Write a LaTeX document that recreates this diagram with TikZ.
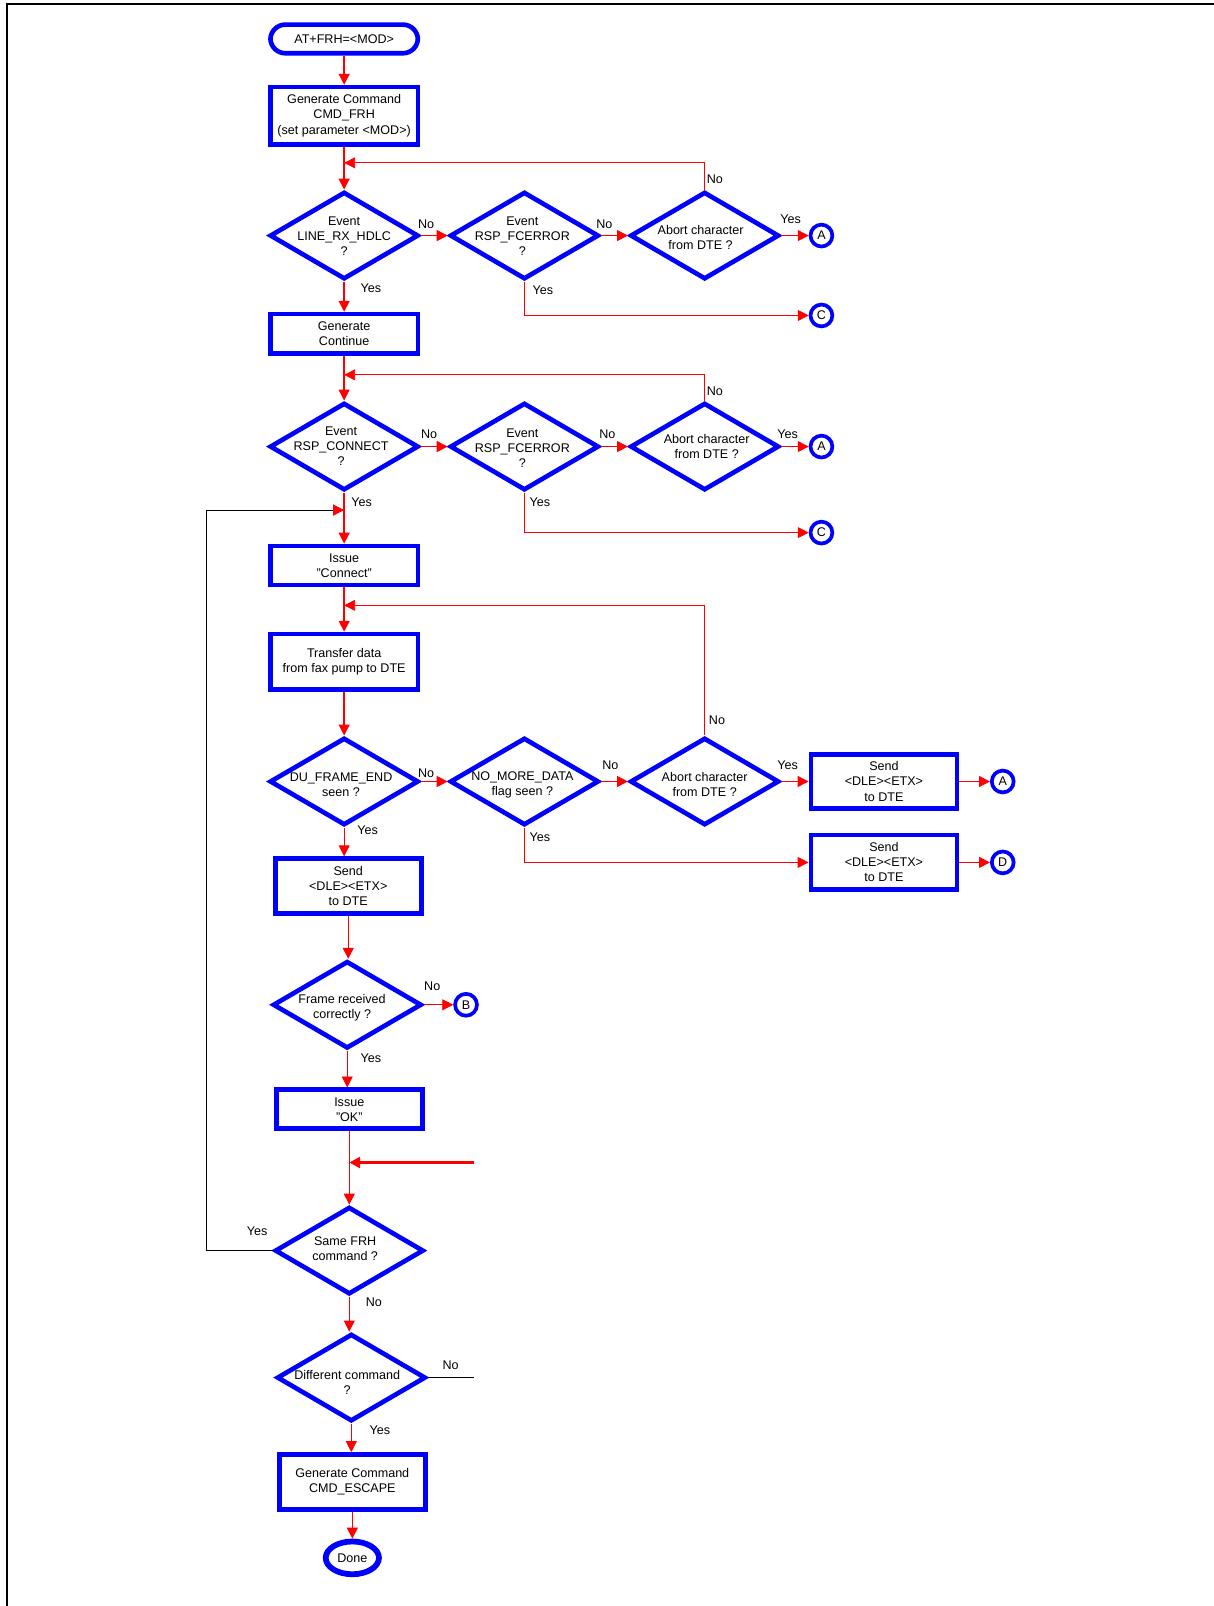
\documentclass[tikz,border=0pt]{standalone}
\usepackage{fontspec}
\setmainfont{Liberation Sans}
\usetikzlibrary{shapes.geometric,arrows.meta}
\begin{document}
\begin{tikzpicture}[x=0.75pt,y=-0.75pt,
  font=\fontsize{9.2}{11}\selectfont,
  box/.style={draw=blue,line width=3.4pt,rectangle,minimum width=108pt,align=center,inner sep=1pt},
  dia/.style={draw=blue,line width=3.4pt,diamond,minimum width=109pt,minimum height=64pt,inner sep=0pt},
  txt/.style={align=center,inner sep=0pt},
  conn/.style={circle,draw=blue,line width=2.7pt,minimum size=16pt,inner sep=0pt},
  lab/.style={inner sep=0pt},
  tip/.style={-{Triangle[length=8pt,width=8pt,red]}},
  arr/.style={red,line width=1pt,tip},
  tarr/.style={red,line width=0.6pt,tip},
  bline/.style={black,line width=0.8pt},
]
\useasboundingbox (0,0) rectangle (1185,1568);
\draw[line width=1.5pt] (7,1568) -- (7,4) -- (1185,4);

% ---- column 1 ----
\node[draw=blue,line width=3.4pt,rounded corners=11pt,minimum width=108pt,minimum height=21pt,inner sep=1pt] (start) at (336,38) {AT+FRH=<MOD>};
\node[box,minimum height=42pt] (b1) at (336,113) {Generate Command\\CMD\_FRH\\(set parameter <MOD>)};
\node[dia] (d1) at (336,230) {};
\node[txt] (d1t) at (336,231) {Event\\LINE\_RX\_HDLC\\?};
\node[dia] (d2) at (512,230) {};
\node[txt] (d2t) at (510,231) {Event\\RSP\_FCERROR\\?};
\node[dia] (d3) at (688,230) {};
\node[txt] (d3t) at (684,232) {Abort character\\from DTE ?};
\node[conn] (a1) at (802,230) {A};
\node[conn] (c1) at (802,308) {C};

\node[box,minimum height=29pt] (b2) at (336,326) {Generate\\Continue};
\node[dia] (d4) at (336,436) {};
\node[txt] (d4t) at (333,436) {Event\\RSP\_CONNECT\\?};
\node[dia] (d5) at (512,436) {};
\node[txt] (d5t) at (510,438) {Event\\RSP\_FCERROR\\?};
\node[dia] (d6) at (688,436) {};
\node[txt] (d6t) at (690,436) {Abort character\\from DTE ?};
\node[conn] (a2) at (802,436) {A};
\node[conn] (c2) at (802,520) {C};

\node[box,minimum height=28.5pt] (b3) at (336,552) {Issue\\"Connect"};
\node[box,minimum height=40.5pt] (b4) at (336,646) {Transfer data\\from fax pump to DTE};
\node[dia] (d7) at (336,763) {};
\node[txt] (d7t) at (333,766) {DU\_FRAME\_END\\seen ?};
\node[dia] (d8) at (512,763) {};
\node[txt] (d8t) at (510,766) {NO\_MORE\_DATA\\flag seen ?};
\node[dia] (d9) at (688,763) {};
\node[txt] (d9t) at (688,766) {Abort character\\from DTE ?};
\node[box,minimum width=107pt,minimum height=40pt] (s1) at (863,763) {Send\\<DLE><ETX>\\to DTE};
\node[conn] (a3) at (979,763) {A};
\node[box,minimum width=107pt,minimum height=40pt] (s2) at (863,842) {Send\\<DLE><ETX>\\to DTE};
\node[conn] (dd) at (979,842) {D};

\node[box,minimum width=107pt,minimum height=40pt] (s3) at (340,865) {Send\\<DLE><ETX>\\to DTE};
\node[dia] (d10) at (339,981) {};
\node[txt] (d10t) at (334,984) {Frame received\\correctly ?};
\node[conn] (bb) at (455,981) {B};
\node[box,minimum width=107pt,minimum height=28.5pt] (ok) at (341,1083) {Issue\\"OK"};
\node[dia] (d11) at (341,1221) {};
\node[txt] (d11t) at (337,1219) {Same FRH\\command ?};
\node[dia] (d12) at (343,1345) {};
\node[txt] (d12t) at (339,1350) {Different command\\?};
\node[box,minimum width=107pt,minimum height=40.5pt] (esc) at (344,1447) {Generate Command\\CMD\_ESCAPE};
\node[ellipse,draw=blue,line width=4.2pt,minimum width=39pt,minimum height=24pt,inner sep=0pt] (done) at (344,1521) {Done};

% ---- junction coordinates ----
\coordinate (j1) at (336,159);
\coordinate (j2) at (336,366);
\coordinate (j3) at (336,498);
\coordinate (j4) at (336,591);
\coordinate (j5) at (341,1135);
\coordinate (t1) at (463,1135);
\coordinate (t2) at (463,1345);
\coordinate (k1) at (202,1221);
\coordinate (k2) at (202,498);

% ---- connectors ----
\draw[arr] (start) -- (b1);
\draw[arr] (b1) -- (d1);
\draw[tarr] (d3.north) |- (j1);
\draw[arr] (d1) -- (d2);
\draw[arr] (d2) -- (d3);
\draw[arr] (d3) -- (a1);
\draw[tarr] (d2.south) |- (c1);
\draw[arr] (d1) -- (b2);

\draw[arr] (b2) -- (d4);
\draw[tarr] (d6.north) |- (j2);
\draw[arr] (d4) -- (d5);
\draw[arr] (d5) -- (d6);
\draw[arr] (d6) -- (a2);
\draw[tarr] (d5.south) |- (c2);
\draw[arr] (d4) -- (b3);
\draw[bline,tip] (d11.west) -- (k1) -- (k2) -- (j3);

\draw[arr] (b3) -- (b4);
\draw[tarr] (d9.north) |- (j4);
\draw[arr] (b4) -- (d7);
\draw[arr] (d7) -- (d8);
\draw[arr] (d8) -- (d9);
\draw[arr] (d9) -- (s1);
\draw[arr] (s1) -- (a3);
\draw[tarr] (d8.south) |- (s2);
\draw[arr] (s2) -- (dd);

\draw[tarr] (d7.south) -- (d7.south |- s3.north);
\draw[arr] (s3.south) -- (s3.south |- d10.north);
\draw[tarr] (d10) -- (bb);
\draw[tarr] (d10.south) -- (d10.south |- ok.north);
\draw[arr] (ok.south) -- (ok.south |- d11.north);
\draw[red,line width=2.2pt,-{Triangle[length=8pt,width=8pt]}] (t1) -- (j5);
\draw[tarr] (d11.south) -- (d11.south |- d12.north);
\draw[bline] (d12.east) -- (t2);
\draw[tarr] (d12.south) -- (d12.south |- esc.north);
\draw[arr] (esc.south) -- (esc.south |- done.north);

% ---- branch labels ----
\node[lab] (l1) at (416,219) {No};
\node[lab] (l2) at (590,219) {No};
\node[lab] (l3) at (698,175) {No};
\node[lab] (l4) at (772,214) {Yes};
\node[lab] (l5) at (362,281) {Yes};
\node[lab] (l6) at (530,283) {Yes};
\node[lab] (l7) at (419,424) {No};
\node[lab] (l8) at (593,424) {No};
\node[lab] (l9) at (698,382) {No};
\node[lab] (l10) at (769,424) {Yes};
\node[lab] (l11) at (353,490) {Yes};
\node[lab] (l12) at (527,490) {Yes};
\node[lab] (l13) at (416,755) {No};
\node[lab] (l14) at (596,747) {No};
\node[lab] (l15) at (700,703) {No};
\node[lab] (l16) at (769,747) {Yes};
\node[lab] (l17) at (359,811) {Yes};
\node[lab] (l18) at (527,817) {Yes};
\node[lab] (l19) at (422,963) {No};
\node[lab] (l20) at (362,1033) {Yes};
\node[lab] (l21) at (251,1202) {Yes};
\node[lab] (l22) at (365,1271) {No};
\node[lab] (l23) at (440,1333) {No};
\node[lab] (l24) at (371,1396) {Yes};
\end{tikzpicture}
\end{document}
